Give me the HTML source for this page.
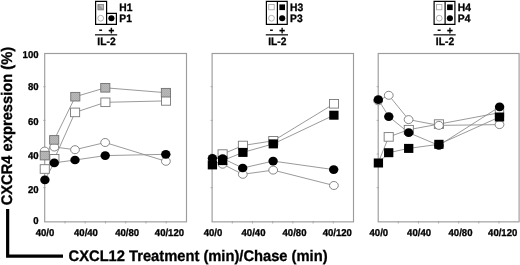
<!DOCTYPE html><html><head><meta charset="utf-8"><style>
html,body{margin:0;padding:0;background:#fff;}
svg{display:block;font-family:"Liberation Sans",sans-serif;font-weight:bold;text-rendering:geometricPrecision;}
</style></head><body>
<svg width="520" height="265" viewBox="0 0 520 265">
<defs><pattern id="g" width="2" height="2" patternUnits="userSpaceOnUse"><rect width="2" height="2" fill="#b8b8b8"/><rect width="1" height="1" fill="#adadad"/><rect x="1" y="1" width="1" height="1" fill="#adadad"/></pattern><filter id="b" x="0" y="0" width="520" height="265" filterUnits="userSpaceOnUse"><feGaussianBlur stdDeviation="0.35"/></filter></defs>
<g filter="url(#b)">
<rect width="520" height="265" fill="#fff"/>
<rect x="44.7" y="53.5" width="141.8" height="168.35" fill="none" stroke="#9c9c9c" stroke-width="1.15"/>
<line x1="43.1" x2="45.5" y1="187.7" y2="187.7" stroke="#9c9c9c" stroke-width="0.7"/>
<line x1="43.1" x2="45.5" y1="154.0" y2="154.0" stroke="#9c9c9c" stroke-width="0.7"/>
<line x1="43.1" x2="45.5" y1="120.4" y2="120.4" stroke="#9c9c9c" stroke-width="0.7"/>
<line x1="43.1" x2="45.5" y1="86.7" y2="86.7" stroke="#9c9c9c" stroke-width="0.7"/>
<line x1="65.0" x2="65.0" y1="221.2" y2="223.5" stroke="#9c9c9c" stroke-width="0.8"/>
<line x1="85.2" x2="85.2" y1="221.2" y2="223.5" stroke="#9c9c9c" stroke-width="0.8"/>
<line x1="105.5" x2="105.5" y1="221.2" y2="223.5" stroke="#9c9c9c" stroke-width="0.8"/>
<line x1="125.7" x2="125.7" y1="221.2" y2="223.5" stroke="#9c9c9c" stroke-width="0.8"/>
<line x1="146.0" x2="146.0" y1="221.2" y2="223.5" stroke="#9c9c9c" stroke-width="0.8"/>
<line x1="166.2" x2="166.2" y1="221.2" y2="223.5" stroke="#9c9c9c" stroke-width="0.8"/>
<polyline points="44.8,169.0 54.4,158.8 75.1,112.4 105.4,102.3 166.0,100.9" fill="none" stroke="#8e8e8e" stroke-width="0.9"/>
<polyline points="44.7,151.1 54.3,147.0 75.0,149.7 105.2,142.5 165.9,161.3" fill="none" stroke="#8e8e8e" stroke-width="0.9"/>
<polyline points="44.8,155.6 54.2,139.9 75.3,96.7 105.3,87.8 165.9,92.7" fill="none" stroke="#8e8e8e" stroke-width="0.9"/>
<polyline points="44.9,179.8 54.2,162.9 75.0,160.0 105.2,155.6 165.8,154.3" fill="none" stroke="#8e8e8e" stroke-width="0.9"/>
<rect x="40.20" y="164.70" width="9.10" height="8.60" fill="#fff" stroke="#787878" stroke-width="0.9"/>
<rect x="49.85" y="154.50" width="9.10" height="8.60" fill="#fff" stroke="#787878" stroke-width="0.9"/>
<rect x="70.55" y="108.10" width="9.10" height="8.60" fill="#fff" stroke="#787878" stroke-width="0.9"/>
<rect x="100.85" y="98.00" width="9.10" height="8.60" fill="#fff" stroke="#787878" stroke-width="0.9"/>
<rect x="161.45" y="96.60" width="9.10" height="8.60" fill="#fff" stroke="#787878" stroke-width="0.9"/>
<ellipse cx="44.70" cy="151.10" rx="4.40" ry="4.00" fill="#fff" stroke="#787878" stroke-width="0.9"/>
<ellipse cx="54.30" cy="147.00" rx="4.40" ry="4.00" fill="#fff" stroke="#787878" stroke-width="0.9"/>
<ellipse cx="75.00" cy="149.70" rx="4.40" ry="4.00" fill="#fff" stroke="#787878" stroke-width="0.9"/>
<ellipse cx="105.15" cy="142.50" rx="4.40" ry="4.00" fill="#fff" stroke="#787878" stroke-width="0.9"/>
<ellipse cx="165.90" cy="161.30" rx="4.40" ry="4.00" fill="#fff" stroke="#787878" stroke-width="0.9"/>
<rect x="40.20" y="151.30" width="9.10" height="8.60" fill="url(#g)" stroke="#707070" stroke-width="0.9"/>
<rect x="49.65" y="135.60" width="9.10" height="8.60" fill="url(#g)" stroke="#707070" stroke-width="0.9"/>
<rect x="70.75" y="92.40" width="9.10" height="8.60" fill="url(#g)" stroke="#707070" stroke-width="0.9"/>
<rect x="100.75" y="83.50" width="9.10" height="8.60" fill="url(#g)" stroke="#707070" stroke-width="0.9"/>
<rect x="161.35" y="88.40" width="9.10" height="8.60" fill="url(#g)" stroke="#707070" stroke-width="0.9"/>
<ellipse cx="44.90" cy="179.80" rx="4.7" ry="4.35" fill="#000"/>
<ellipse cx="54.25" cy="162.90" rx="4.7" ry="4.35" fill="#000"/>
<ellipse cx="75.00" cy="160.00" rx="4.7" ry="4.35" fill="#000"/>
<ellipse cx="105.20" cy="155.60" rx="4.7" ry="4.35" fill="#000"/>
<ellipse cx="165.80" cy="154.30" rx="4.7" ry="4.35" fill="#000"/>
<text transform="translate(45.00,235.60) scale(0.0955,0.0993)" font-size="100" text-anchor="middle" stroke="#000" stroke-width="3.14">40/0</text>
<text transform="translate(85.96,235.60) scale(0.0955,0.0993)" font-size="100" text-anchor="middle" stroke="#000" stroke-width="3.14">40/40</text>
<text transform="translate(127.13,235.60) scale(0.0955,0.0993)" font-size="100" text-anchor="middle" stroke="#000" stroke-width="3.14">40/80</text>
<text transform="translate(169.44,235.60) scale(0.0955,0.0993)" font-size="100" text-anchor="middle" stroke="#000" stroke-width="3.14">40/120</text>
<rect x="212.1" y="53.5" width="141.4" height="168.35" fill="none" stroke="#9c9c9c" stroke-width="1.15"/>
<line x1="210.5" x2="212.9" y1="187.7" y2="187.7" stroke="#9c9c9c" stroke-width="0.7"/>
<line x1="210.5" x2="212.9" y1="154.0" y2="154.0" stroke="#9c9c9c" stroke-width="0.7"/>
<line x1="210.5" x2="212.9" y1="120.4" y2="120.4" stroke="#9c9c9c" stroke-width="0.7"/>
<line x1="210.5" x2="212.9" y1="86.7" y2="86.7" stroke="#9c9c9c" stroke-width="0.7"/>
<line x1="232.3" x2="232.3" y1="221.2" y2="223.5" stroke="#9c9c9c" stroke-width="0.8"/>
<line x1="252.5" x2="252.5" y1="221.2" y2="223.5" stroke="#9c9c9c" stroke-width="0.8"/>
<line x1="272.7" x2="272.7" y1="221.2" y2="223.5" stroke="#9c9c9c" stroke-width="0.8"/>
<line x1="292.9" x2="292.9" y1="221.2" y2="223.5" stroke="#9c9c9c" stroke-width="0.8"/>
<line x1="313.1" x2="313.1" y1="221.2" y2="223.5" stroke="#9c9c9c" stroke-width="0.8"/>
<line x1="333.3" x2="333.3" y1="221.2" y2="223.5" stroke="#9c9c9c" stroke-width="0.8"/>
<polyline points="212.1,161.1 222.6,154.1 242.9,145.5 273.3,140.8 334.0,103.8" fill="none" stroke="#8e8e8e" stroke-width="0.9"/>
<polyline points="212.1,161.1 222.6,164.2 242.8,174.3 273.2,170.1 333.9,185.5" fill="none" stroke="#8e8e8e" stroke-width="0.9"/>
<polyline points="212.4,164.9 222.7,160.6 242.9,152.4 273.3,143.9 333.9,115.2" fill="none" stroke="#8e8e8e" stroke-width="0.9"/>
<polyline points="212.4,158.3 222.7,158.5 242.7,168.0 273.1,161.1 333.7,169.6" fill="none" stroke="#8e8e8e" stroke-width="0.9"/>
<rect x="218.05" y="149.80" width="9.10" height="8.60" fill="#fff" stroke="#787878" stroke-width="0.9"/>
<rect x="238.35" y="141.20" width="9.10" height="8.60" fill="#fff" stroke="#787878" stroke-width="0.9"/>
<rect x="268.75" y="136.50" width="9.10" height="8.60" fill="#fff" stroke="#787878" stroke-width="0.9"/>
<rect x="329.45" y="99.50" width="9.10" height="8.60" fill="#fff" stroke="#787878" stroke-width="0.9"/>
<ellipse cx="222.60" cy="164.20" rx="4.40" ry="4.00" fill="#fff" stroke="#787878" stroke-width="0.9"/>
<ellipse cx="242.80" cy="174.30" rx="4.40" ry="4.00" fill="#fff" stroke="#787878" stroke-width="0.9"/>
<ellipse cx="273.20" cy="170.10" rx="4.40" ry="4.00" fill="#fff" stroke="#787878" stroke-width="0.9"/>
<ellipse cx="333.90" cy="185.50" rx="4.40" ry="4.00" fill="#fff" stroke="#787878" stroke-width="0.9"/>
<rect x="207.75" y="160.40" width="9.3" height="9.0" fill="#000"/>
<rect x="218.00" y="156.10" width="9.3" height="9.0" fill="#000"/>
<rect x="238.25" y="147.90" width="9.3" height="9.0" fill="#000"/>
<rect x="268.65" y="139.40" width="9.3" height="9.0" fill="#000"/>
<rect x="329.25" y="110.70" width="9.3" height="9.0" fill="#000"/>
<ellipse cx="212.40" cy="158.30" rx="4.7" ry="4.35" fill="#000"/>
<ellipse cx="222.65" cy="158.50" rx="4.7" ry="4.35" fill="#000"/>
<ellipse cx="242.70" cy="168.00" rx="4.7" ry="4.35" fill="#000"/>
<ellipse cx="273.10" cy="161.10" rx="4.7" ry="4.35" fill="#000"/>
<ellipse cx="333.70" cy="169.60" rx="4.7" ry="4.35" fill="#000"/>
<text transform="translate(213.00,235.60) scale(0.0955,0.0993)" font-size="100" text-anchor="middle" stroke="#000" stroke-width="3.14">40/0</text>
<text transform="translate(253.50,235.60) scale(0.0955,0.0993)" font-size="100" text-anchor="middle" stroke="#000" stroke-width="3.14">40/40</text>
<text transform="translate(294.50,235.60) scale(0.0955,0.0993)" font-size="100" text-anchor="middle" stroke="#000" stroke-width="3.14">40/80</text>
<text transform="translate(337.25,235.60) scale(0.0955,0.0993)" font-size="100" text-anchor="middle" stroke="#000" stroke-width="3.14">40/120</text>
<rect x="378.2" y="53.5" width="140.9" height="168.35" fill="none" stroke="#9c9c9c" stroke-width="1.15"/>
<line x1="376.59999999999997" x2="379.0" y1="187.7" y2="187.7" stroke="#9c9c9c" stroke-width="0.7"/>
<line x1="376.59999999999997" x2="379.0" y1="154.0" y2="154.0" stroke="#9c9c9c" stroke-width="0.7"/>
<line x1="376.59999999999997" x2="379.0" y1="120.4" y2="120.4" stroke="#9c9c9c" stroke-width="0.7"/>
<line x1="376.59999999999997" x2="379.0" y1="86.7" y2="86.7" stroke="#9c9c9c" stroke-width="0.7"/>
<line x1="398.3" x2="398.3" y1="221.2" y2="223.5" stroke="#9c9c9c" stroke-width="0.8"/>
<line x1="418.5" x2="418.5" y1="221.2" y2="223.5" stroke="#9c9c9c" stroke-width="0.8"/>
<line x1="438.6" x2="438.6" y1="221.2" y2="223.5" stroke="#9c9c9c" stroke-width="0.8"/>
<line x1="458.7" x2="458.7" y1="221.2" y2="223.5" stroke="#9c9c9c" stroke-width="0.8"/>
<line x1="478.8" x2="478.8" y1="221.2" y2="223.5" stroke="#9c9c9c" stroke-width="0.8"/>
<line x1="499.0" x2="499.0" y1="221.2" y2="223.5" stroke="#9c9c9c" stroke-width="0.8"/>
<polyline points="378.2,162.8 388.7,136.9 408.8,129.7 438.9,124.1 499.5,112.7" fill="none" stroke="#8e8e8e" stroke-width="0.9"/>
<polyline points="378.2,100.8 388.8,95.3 408.6,119.6 438.9,125.4 499.5,124.6" fill="none" stroke="#8e8e8e" stroke-width="0.9"/>
<polyline points="378.4,163.0 388.7,152.7 408.7,148.4 438.9,144.3 499.5,117.0" fill="none" stroke="#8e8e8e" stroke-width="0.9"/>
<polyline points="378.3,99.7 388.8,116.6 408.7,132.7 438.9,145.4 499.6,106.8" fill="none" stroke="#8e8e8e" stroke-width="0.9"/>
<rect x="384.15" y="132.60" width="9.10" height="8.60" fill="#fff" stroke="#787878" stroke-width="0.9"/>
<rect x="404.25" y="125.40" width="9.10" height="8.60" fill="#fff" stroke="#787878" stroke-width="0.9"/>
<rect x="434.35" y="119.80" width="9.10" height="8.60" fill="#fff" stroke="#787878" stroke-width="0.9"/>
<rect x="495.30" y="108.40" width="8.40" height="8.60" fill="#fff" stroke="#787878" stroke-width="0.9"/>
<ellipse cx="378.20" cy="100.80" rx="4.40" ry="4.00" fill="#fff" stroke="#787878" stroke-width="0.9"/>
<ellipse cx="388.75" cy="95.30" rx="4.40" ry="4.00" fill="#fff" stroke="#787878" stroke-width="0.9"/>
<ellipse cx="408.60" cy="119.60" rx="4.40" ry="4.00" fill="#fff" stroke="#787878" stroke-width="0.9"/>
<ellipse cx="438.90" cy="125.40" rx="4.40" ry="4.00" fill="#fff" stroke="#787878" stroke-width="0.9"/>
<ellipse cx="499.50" cy="124.60" rx="4.40" ry="4.00" fill="#fff" stroke="#787878" stroke-width="0.9"/>
<rect x="373.75" y="158.50" width="9.3" height="9.0" fill="#000"/>
<rect x="384.05" y="148.20" width="9.3" height="9.0" fill="#000"/>
<rect x="404.05" y="143.90" width="9.3" height="9.0" fill="#000"/>
<rect x="434.25" y="139.80" width="9.3" height="9.0" fill="#000"/>
<rect x="494.85" y="112.50" width="9.3" height="9.0" fill="#000"/>
<ellipse cx="378.30" cy="99.70" rx="4.7" ry="4.35" fill="#000"/>
<ellipse cx="388.80" cy="116.60" rx="4.7" ry="4.35" fill="#000"/>
<ellipse cx="408.70" cy="132.70" rx="4.7" ry="4.35" fill="#000"/>
<ellipse cx="438.90" cy="145.40" rx="4.7" ry="4.35" fill="#000"/>
<ellipse cx="499.60" cy="106.80" rx="4.7" ry="4.35" fill="#000"/>
<text transform="translate(378.80,235.60) scale(0.0955,0.0993)" font-size="100" text-anchor="middle" stroke="#000" stroke-width="3.14">40/0</text>
<text transform="translate(419.06,235.60) scale(0.0955,0.0993)" font-size="100" text-anchor="middle" stroke="#000" stroke-width="3.14">40/40</text>
<text transform="translate(460.51,235.60) scale(0.0955,0.0993)" font-size="100" text-anchor="middle" stroke="#000" stroke-width="3.14">40/80</text>
<text transform="translate(502.67,235.60) scale(0.0955,0.0993)" font-size="100" text-anchor="middle" stroke="#000" stroke-width="3.14">40/120</text>
<text transform="translate(38.60,224.30) scale(0.0960,0.0998)" font-size="100" text-anchor="end" stroke="#000" stroke-width="3.12">0</text>
<text transform="translate(38.60,192.71) scale(0.0960,0.0998)" font-size="100" text-anchor="end" stroke="#000" stroke-width="3.12">20</text>
<text transform="translate(38.60,158.62) scale(0.0960,0.0998)" font-size="100" text-anchor="end" stroke="#000" stroke-width="3.12">40</text>
<text transform="translate(38.60,125.43) scale(0.0960,0.0998)" font-size="100" text-anchor="end" stroke="#000" stroke-width="3.12">60</text>
<text transform="translate(38.60,90.34) scale(0.0960,0.0998)" font-size="100" text-anchor="end" stroke="#000" stroke-width="3.12">80</text>
<text transform="translate(38.60,58.15) scale(0.0960,0.0998)" font-size="100" text-anchor="end" stroke="#000" stroke-width="3.12">100</text>
<text transform="translate(12.30,205.30) rotate(-90) scale(0.1470,0.1529)" font-size="100" text-anchor="start" stroke="#000" stroke-width="2.04">CXCR4 expression (%)</text>
<text transform="translate(68.60,260.80) scale(0.1470,0.1529)" font-size="100" text-anchor="start" stroke="#000" stroke-width="2.04">CXCL12 Treatment (min)/Chase (min)</text>
<path d="M7.65 209 V256.1 H63" fill="none" stroke="#000" stroke-width="3.2"/>
<path d="M95.60 1.4 H106.60 V13.3 H116.40 V24.3 H95.60 Z M106.60 13.3 V24.3" fill="#fff" stroke="#000" stroke-width="1.2"/>
<rect x="98.00" y="4.5" width="5.4" height="5.3" fill="#bcbcbc" stroke="#7c7c7c" stroke-width="0.8"/>
<path d="M98.00 4.5 L103.40 9.8 H98.00 Z" fill="#9c9c9c" stroke="#7c7c7c" stroke-width="0.5"/>
<circle cx="100.70" cy="18.2" r="2.9" fill="#fff" stroke="#a0a0a0" stroke-width="0.8"/>
<circle cx="111.40" cy="18.2" r="3.05" fill="#000"/>
<text transform="translate(119.30,10.75) scale(0.1030,0.1071)" font-size="100" text-anchor="start" stroke="#000" stroke-width="2.91">H1</text>
<text transform="translate(119.30,22.25) scale(0.1030,0.1071)" font-size="100" text-anchor="start" stroke="#000" stroke-width="2.91">P1</text>
<text transform="translate(100.70,33.30) scale(0.1000,0.1040)" font-size="100" text-anchor="middle" stroke="#000" stroke-width="3.00">-</text>
<text transform="translate(111.40,33.90) scale(0.1000,0.1040)" font-size="100" text-anchor="middle" stroke="#000" stroke-width="3.00">+</text>
<line x1="95.00" x2="117.20" y1="34.85" y2="34.85" stroke="#000" stroke-width="1.2"/>
<text transform="translate(106.50,44.80) scale(0.1030,0.1071)" font-size="100" text-anchor="middle" stroke="#000" stroke-width="2.91">IL-2</text>
<path d="M266.40 1.4 H287.20 V24.3 H266.40 Z M277.40 1.4 V24.3" fill="#fff" stroke="#000" stroke-width="1.2"/>
<rect x="268.80" y="4.5" width="5.4" height="5.3" fill="#fff" stroke="#a0a0a0" stroke-width="0.8"/>
<rect x="279.40" y="4.4" width="5.6" height="5.7" fill="#000"/>
<circle cx="271.50" cy="18.2" r="2.9" fill="#fff" stroke="#a0a0a0" stroke-width="0.8"/>
<circle cx="282.20" cy="18.2" r="3.05" fill="#000"/>
<text transform="translate(290.10,10.75) scale(0.1030,0.1071)" font-size="100" text-anchor="start" stroke="#000" stroke-width="2.91">H3</text>
<text transform="translate(290.10,22.25) scale(0.1030,0.1071)" font-size="100" text-anchor="start" stroke="#000" stroke-width="2.91">P3</text>
<text transform="translate(271.50,33.30) scale(0.1000,0.1040)" font-size="100" text-anchor="middle" stroke="#000" stroke-width="3.00">-</text>
<text transform="translate(282.20,33.90) scale(0.1000,0.1040)" font-size="100" text-anchor="middle" stroke="#000" stroke-width="3.00">+</text>
<line x1="265.80" x2="288.00" y1="34.85" y2="34.85" stroke="#000" stroke-width="1.2"/>
<text transform="translate(277.30,44.80) scale(0.1030,0.1071)" font-size="100" text-anchor="middle" stroke="#000" stroke-width="2.91">IL-2</text>
<path d="M434.10 1.4 H454.90 V24.3 H434.10 Z M445.10 1.4 V24.3" fill="#fff" stroke="#000" stroke-width="1.2"/>
<rect x="436.50" y="4.5" width="5.4" height="5.3" fill="#fff" stroke="#a0a0a0" stroke-width="0.8"/>
<rect x="447.10" y="4.4" width="5.6" height="5.7" fill="#000"/>
<circle cx="439.20" cy="18.2" r="2.9" fill="#fff" stroke="#a0a0a0" stroke-width="0.8"/>
<circle cx="449.90" cy="18.2" r="3.05" fill="#000"/>
<text transform="translate(457.80,10.75) scale(0.1030,0.1071)" font-size="100" text-anchor="start" stroke="#000" stroke-width="2.91">H4</text>
<text transform="translate(457.80,22.25) scale(0.1030,0.1071)" font-size="100" text-anchor="start" stroke="#000" stroke-width="2.91">P4</text>
<text transform="translate(439.20,33.30) scale(0.1000,0.1040)" font-size="100" text-anchor="middle" stroke="#000" stroke-width="3.00">-</text>
<text transform="translate(449.90,33.90) scale(0.1000,0.1040)" font-size="100" text-anchor="middle" stroke="#000" stroke-width="3.00">+</text>
<line x1="433.50" x2="455.70" y1="34.85" y2="34.85" stroke="#000" stroke-width="1.2"/>
<text transform="translate(445.00,44.80) scale(0.1030,0.1071)" font-size="100" text-anchor="middle" stroke="#000" stroke-width="2.91">IL-2</text>
</g></svg></body></html>
